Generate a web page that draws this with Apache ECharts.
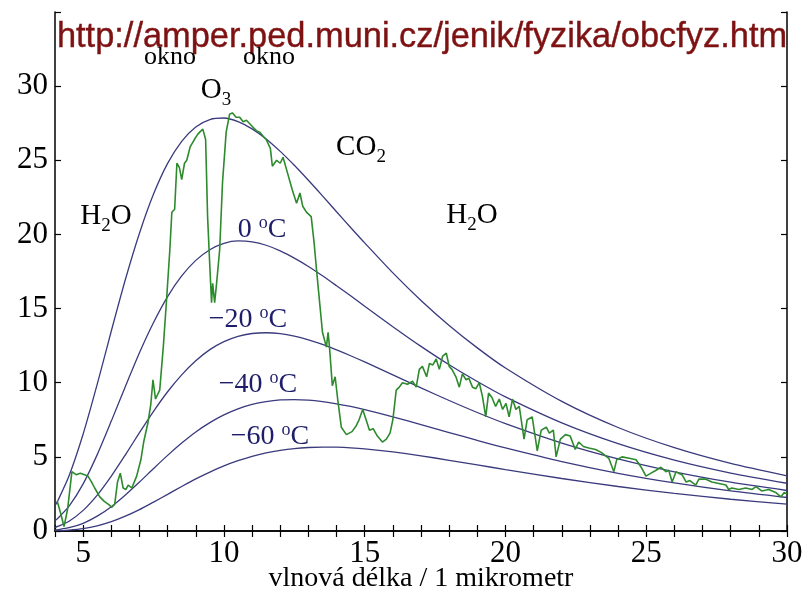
<!DOCTYPE html>
<html><head><meta charset="utf-8">
<script src="https://cdn.jsdelivr.net/npm/echarts@6/dist/echarts.min.js"></script>
<style>html,body{margin:0;padding:0;background:#fff}#c{width:807px;height:597px}</style>
</head><body><div id="c"></div>
<script>
// Blackbody curves: wavelength in micrometres
const planckX   = [4.0, 4.1, 4.5, 5, 5.5, 6, 6.5, 7, 7.5, 8, 8.5, 9, 9.5, 10, 10.5, 11, 11.5, 12, 12.5, 13, 13.5, 14, 14.5, 15, 16, 17, 18, 19, 20, 22, 24, 26, 28, 30];
const curve20   = [1.71, 2.04, 3.72, 6.54, 9.90, 13.49, 16.96, 20.08, 22.72, 24.79, 26.28, 27.25, 27.75, 27.85, 27.61, 27.12, 26.44, 25.60, 24.66, 23.65, 22.60, 21.53, 20.47, 19.43, 17.41, 15.55, 13.86, 12.35, 10.99, 8.74, 6.98, 5.62, 4.56, 3.72];
const curve0    = [0.70, 0.85, 1.67, 3.18, 5.15, 7.41, 9.75, 12.02, 14.06, 15.81, 17.20, 18.25, 18.97, 19.40, 19.56, 19.50, 19.27, 18.89, 18.40, 17.84, 17.21, 16.54, 15.86, 15.16, 13.78, 12.45, 11.21, 10.08, 9.04, 7.29, 5.89, 4.78, 3.91, 3.22];
const curveM20  = [0.25, 0.31, 0.66, 1.39, 2.42, 3.70, 5.14, 6.63, 8.07, 9.39, 10.53, 11.48, 12.23, 12.77, 13.13, 13.32, 13.37, 13.31, 13.14, 12.89, 12.58, 12.21, 11.82, 11.40, 10.53, 9.65, 8.80, 7.99, 7.24, 5.93, 4.86, 3.99, 3.29, 2.73];
const curveM40  = [0.07, 0.09, 0.22, 0.52, 1.00, 1.64, 2.43, 3.30, 4.21, 5.10, 5.93, 6.68, 7.31, 7.83, 8.24, 8.54, 8.73, 8.84, 8.86, 8.82, 8.72, 8.58, 8.40, 8.19, 7.70, 7.18, 6.64, 6.11, 5.60, 4.68, 3.89, 3.24, 2.70, 2.26];
const curveM60  = [0.02, 0.02, 0.06, 0.16, 0.35, 0.63, 1.00, 1.44, 1.95, 2.47, 3.00, 3.51, 3.97, 4.39, 4.74, 5.04, 5.27, 5.44, 5.56, 5.63, 5.66, 5.65, 5.61, 5.54, 5.33, 5.07, 4.77, 4.46, 4.14, 3.54, 3.00, 2.54, 2.14, 1.81];

// Measured outgoing spectrum (green)
const specX = [4.08,4.2,4.32,4.45,4.6,4.75,4.9,5.05,5.17,5.3,5.41,5.59,5.75,5.9,6.02,6.12,6.22,6.32,6.42,6.52,6.6,6.73,6.9,7.05,7.15,7.3,7.4,7.48,7.57,7.72,7.85,7.97,8.08,8.15,8.25,8.33,8.42,8.5,8.6,8.68,8.8,8.95,9.05,9.14,9.25,9.35,9.42,9.5,9.56,9.6,9.67,9.74,9.85,9.95,10.08,10.2,10.3,10.43,10.56,10.68,10.8,11.0,11.15,11.27,11.4,11.5,11.65,11.72,11.87,12.0,12.1,12.25,12.43,12.58,12.7,12.8,12.93,13.1,13.2,13.28,13.39,13.5,13.64,13.7,13.75,13.85,13.95,14.04,14.17,14.35,14.55,14.7,14.8,14.93,15.05,15.17,15.3,15.45,15.63,15.77,15.9,16.0,16.12,16.23,16.34,16.52,16.7,16.83,16.94,17.05,17.2,17.3,17.42,17.54,17.65,17.77,17.9,18.0,18.1,18.24,18.36,18.47,18.6,18.7,18.83,18.95,19.07,19.18,19.3,19.4,19.52,19.65,19.78,19.9,20.02,20.13,20.25,20.37,20.49,20.66,20.77,20.95,21.13,21.27,21.45,21.56,21.7,21.8,21.95,22.13,22.3,22.48,22.6,22.77,22.96,23.2,23.4,23.67,23.85,23.95,24.14,24.4,24.64,24.82,24.99,25.17,25.35,25.52,25.7,25.8,25.92,26.06,26.15,26.27,26.42,26.55,26.62,26.76,26.87,27.1,27.33,27.58,27.83,27.93,28.04,28.29,28.53,28.76,28.9,29.1,29.35,29.6,29.78,29.9,30.0];
const specY = [2.0,1.2,0.3,1.5,4.0,3.8,3.9,3.8,3.7,3.3,2.9,2.3,2.0,1.8,1.6,1.8,3.3,3.9,2.9,2.8,3.1,2.9,3.7,4.8,6.0,7.3,8.5,10.2,8.9,9.5,12.5,15.8,19.0,21.5,21.7,24.8,24.5,23.7,24.8,25.0,25.9,26.4,26.7,26.9,27.1,26.4,21.2,17.8,15.4,16.7,15.4,16.7,19.0,23.5,26.9,28.1,28.2,27.9,27.9,27.6,27.7,27.3,27.0,26.9,26.6,26.4,25.8,24.6,25.0,24.8,25.2,24.2,23.0,22.1,22.8,21.9,21.5,21.2,19.5,17.8,15.6,13.4,12.4,13.4,12.4,9.8,10.4,8.9,7.0,6.5,6.7,7.1,7.5,8.2,7.5,6.8,6.9,6.4,6.0,6.2,6.6,7.5,9.5,9.7,10.0,9.9,10.1,9.7,10.9,11.1,10.4,11.3,11.2,11.6,10.9,11.8,12.0,11.1,10.9,10.4,9.7,10.6,10.2,10.3,9.7,9.6,10.0,9.1,7.7,9.3,9.0,8.4,8.9,8.2,8.6,7.7,8.9,8.2,8.4,6.2,7.5,7.7,5.4,6.8,7.0,6.6,6.8,5.0,6.2,6.5,6.4,5.5,6.0,5.7,5.6,5.5,5.3,4.9,4.0,4.8,5.0,4.9,4.8,4.3,3.7,3.9,4.1,4.3,4.0,4.1,3.3,4.0,3.9,3.8,3.3,3.4,3.5,3.1,3.5,3.5,3.3,3.2,3.1,2.8,2.9,2.8,2.9,2.8,3.0,2.7,2.8,2.6,2.3,2.6,2.5];

const xTickLabels = [5, 10, 15, 20, 25, 30];
const yTickLabels = [0, 5, 10, 15, 20, 25, 30];

const serif = "'Liberation Serif','Times New Roman','DejaVu Serif',serif";
const blue = '#3a3a7e';
const navy = '#1e1e6a';

const chart = echarts.init(document.getElementById('c'));
const pair = (xs, ys) => xs.map((x, i) => [x, ys[i]]);

const planckSeries = [curve20, curve0, curveM20, curveM40, curveM60].map(c => ({
  type: 'line', data: pair(planckX, c), smooth: 0.25, showSymbol: false, clip: true,
  lineStyle: { color: blue, width: 1.3 }, z: 2
}));

const richChem = {
  m: { fontFamily: serif, fontSize: 29, lineHeight: 30, fill: '#000' },
  o: { fontFamily: serif, fontSize: 26, lineHeight: 30, fill: '#000' },
  s: { fontFamily: serif, fontSize: 19, lineHeight: 19, padding: [19, 0, 0, 0], fill: '#000' }
};
const richTemp = {
  m: { fontFamily: serif, fontSize: 28, lineHeight: 30, fill: navy },
  u: { fontFamily: serif, fontSize: 18, lineHeight: 18, padding: [0, 0, 14, 0], fill: navy }
};
function txt(x, y, text, rich) {
  return { type: 'text', x: x, y: y, z: 100, style: { text: text, rich: rich, align: 'center', verticalAlign: 'middle' } };
}

const axisCommon = {
  axisLine: { show: true, lineStyle: { color: '#000', width: 1.5 } },
  axisTick: { show: true, inside: true, length: 6, lineStyle: { color: '#000', width: 1.2 } },
  splitLine: { show: false }
};

chart.setOption({
  animation: false,
  backgroundColor: '#fff',
  grid: { left: 55, right: 20, top: 12, bottom: 66, containLabel: false, outerBoundsMode: 'none' },
  xAxis: [
    Object.assign({
      type: 'value', min: 4, max: 30, interval: 1, position: 'bottom',
      axisLabel: { formatter: v => xTickLabels.includes(v) ? String(v) : '', fontFamily: serif, fontSize: 31, color: '#000', margin: 7 },
      name: 'vlnová délka / 1 mikrometr', nameLocation: 'middle', nameGap: 34, nameMoveOverlap: false,
      nameTextStyle: { fontFamily: serif, fontSize: 28, color: '#000' }
    }, axisCommon),
    Object.assign({ type: 'value', min: 4, max: 30, interval: 1, position: 'top', axisLabel: { show: false } }, axisCommon)
  ],
  yAxis: [
    Object.assign({
      type: 'value', min: 0, max: 35, interval: 5, position: 'left',
      axisLabel: { formatter: v => yTickLabels.includes(v) ? String(v) : '', fontFamily: serif, fontSize: 31, color: '#000', margin: 7 }
    }, axisCommon),
    Object.assign({ type: 'value', min: 0, max: 35, interval: 5, position: 'right', axisLabel: { show: false } }, axisCommon)
  ],
  series: planckSeries.concat([{
    type: 'line', data: pair(specX, specY), showSymbol: false, clip: true,
    lineStyle: { color: '#2d8a2d', width: 1.6 }, z: 3
  }]),
  graphic: [
    { type: 'text', x: 422, y: 38, z: 100, style: { text: 'http://amper.ped.muni.cz/jenik/fyzika/obcfyz.htm', fontFamily: "'Liberation Sans',Arial,sans-serif", fontSize: 34.4, fill: '#7e1212', stroke: '#7e1212', lineWidth: 0.4, align: 'center', verticalAlign: 'middle' } },
    txt(170, 57, '{o|okno}', richChem),
    txt(269, 57, '{o|okno}', richChem),
    txt(216, 90.5, '{m|O}{s|3}', richChem),
    txt(106, 216.5, '{m|H}{s|2}{m|O}', richChem),
    txt(361, 147.5, '{m|CO}{s|2}', richChem),
    txt(472, 215.5, '{m|H}{s|2}{m|O}', richChem),
    txt(262, 230, '{m|0 }{u|o}{m|C}', richTemp),
    txt(248, 320, '{m|−20 }{u|o}{m|C}', richTemp),
    txt(258, 385, '{m|−40 }{u|o}{m|C}', richTemp),
    txt(270, 437, '{m|−60 }{u|o}{m|C}', richTemp)
  ]
});
</script></body></html>
